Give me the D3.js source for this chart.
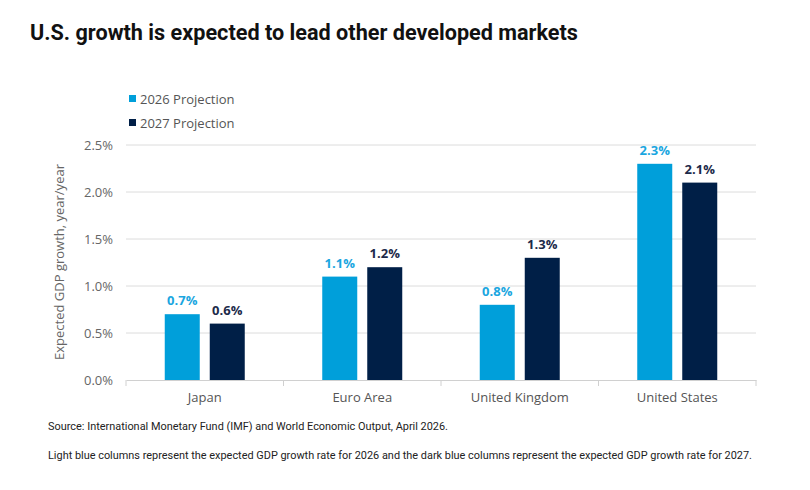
<!DOCTYPE html>
<html><head><meta charset="utf-8">
<script src="https://cdn.jsdelivr.net/npm/d3@7"></script>
<style>body{margin:0;background:#fff;}svg{display:block;font-family:"Open Sans","Liberation Sans",sans-serif;}</style>
</head><body><svg id="c" width="810" height="490"></svg>
<script>
const categories = ["Japan", "Euro Area", "United Kingdom", "United States"];
const seriesNames = ["2026 Projection", "2027 Projection"];
const values2026 = [0.7, 1.1, 0.8, 2.3];
const values2027 = [0.6, 1.2, 1.3, 2.1];
const yTicks = [0, 0.5, 1.0, 1.5, 2.0, 2.5];
const colors = ["#009fda", "#001f47"];
const labelColors = ["#1aa6e0", "#1c2a4a"];

(function(){
const svg = d3.select("#c");
const pLeft = 126, pRight = 756, pTop = 145, pBottom = 380;

svg.append("text").attr("x", 30).attr("y", 40).attr("font-size", 21.5).attr("font-weight", 700)
  .attr("fill", "#111").attr("font-family", "Roboto, sans-serif")
  .attr("textLength", 548).attr("lengthAdjust", "spacingAndGlyphs")
  .text("U.S. growth is expected to lead other developed markets");

const x = d3.scaleBand().domain(categories).range([pLeft, pRight]);
const y = d3.scaleLinear().domain([0, 2.5]).range([pBottom, pTop]);
const x1 = d3.scaleBand().domain(seriesNames).range([0, 80]).paddingInner(10/45);

svg.append("g").selectAll("line").data(yTicks.filter(t => t > 0)).join("line")
  .attr("x1", pLeft).attr("x2", pRight).attr("y1", d => y(d)).attr("y2", d => y(d))
  .attr("stroke", "#dcdcdc").attr("stroke-width", 1);

const yAxis = svg.append("g").attr("transform", `translate(${pLeft},0)`)
  .call(d3.axisLeft(y).tickValues(yTicks).tickFormat(d => d.toFixed(1) + "%").tickSize(0).tickPadding(13));
yAxis.select(".domain").remove();
yAxis.selectAll("text").attr("font-size", 13).attr("fill", "#666").attr("font-family", "Open Sans, sans-serif");

const xAxis = svg.append("g").attr("transform", `translate(0,${pBottom})`)
  .call(d3.axisBottom(x).tickSize(0).tickPadding(13));
xAxis.select(".domain").attr("stroke", "#d0d0d0");
xAxis.selectAll("text").attr("font-size", 13).attr("fill", "#555").attr("font-family", "Open Sans, sans-serif");
svg.append("g").selectAll("line").data(categories).join("line")
  .attr("x1", d => x(d)).attr("x2", d => x(d)).attr("y1", pBottom).attr("y2", pBottom + 6)
  .attr("stroke", "#d0d0d0");
svg.append("line").attr("x1", pRight).attr("x2", pRight).attr("y1", pBottom).attr("y2", pBottom + 6).attr("stroke", "#d0d0d0");

const data = categories.map((c, i) => ({c, vals: [values2026[i], values2027[i]]}));
const g = svg.append("g").selectAll("g").data(data).join("g")
  .attr("transform", d => `translate(${x(d.c) + x.bandwidth()/2 - 40},0)`);
g.selectAll("rect").data(d => d.vals.map((v, j) => ({v, j}))).join("rect")
  .attr("x", d => x1(seriesNames[d.j])).attr("width", x1.bandwidth())
  .attr("y", d => y(d.v)).attr("height", d => y(0) - y(d.v))
  .attr("fill", d => colors[d.j]);
g.selectAll("text").data(d => d.vals.map((v, j) => ({v, j}))).join("text")
  .attr("x", d => x1(seriesNames[d.j]) + x1.bandwidth()/2).attr("y", d => y(d.v) - 9)
  .attr("text-anchor", "middle").attr("font-size", 13).attr("font-weight", 700)
  .attr("fill", d => labelColors[d.j]).attr("font-family", "Open Sans, sans-serif")
  .text(d => d.v.toFixed(1) + "%");

const lg = svg.append("g").selectAll("g").data(seriesNames).join("g")
  .attr("transform", (d, i) => `translate(129,${99 + i * 24})`);
lg.append("rect").attr("x", 0).attr("y", -4).attr("width", 7).attr("height", 7).attr("fill", (d, i) => colors[i]);
lg.append("text").attr("x", 11).attr("y", 5).attr("font-size", 13).attr("fill", "#555")
  .attr("font-family", "Open Sans, sans-serif").text(d => d);

svg.append("text").attr("transform", "translate(64,262) rotate(-90)").attr("text-anchor", "middle")
  .attr("font-size", 13).attr("fill", "#666").attr("font-family", "Open Sans, sans-serif")
  .text("Expected GDP growth, year/year");

svg.append("text").attr("x", 48).attr("y", 430).attr("font-size", 11).attr("fill", "#222")
  .attr("font-family", "Liberation Sans Narrow, Roboto, sans-serif")
  .attr("textLength", 400).attr("lengthAdjust", "spacingAndGlyphs")
  .text("Source: International Monetary Fund (IMF) and World Economic Output, April 2026.");
svg.append("text").attr("x", 48).attr("y", 459).attr("font-size", 11).attr("fill", "#222")
  .attr("font-family", "Liberation Sans Narrow, Roboto, sans-serif")
  .attr("textLength", 704).attr("lengthAdjust", "spacingAndGlyphs")
  .text("Light blue columns represent the expected GDP growth rate for 2026 and the dark blue columns represent the expected GDP growth rate for 2027.");
})();
</script></body></html>
